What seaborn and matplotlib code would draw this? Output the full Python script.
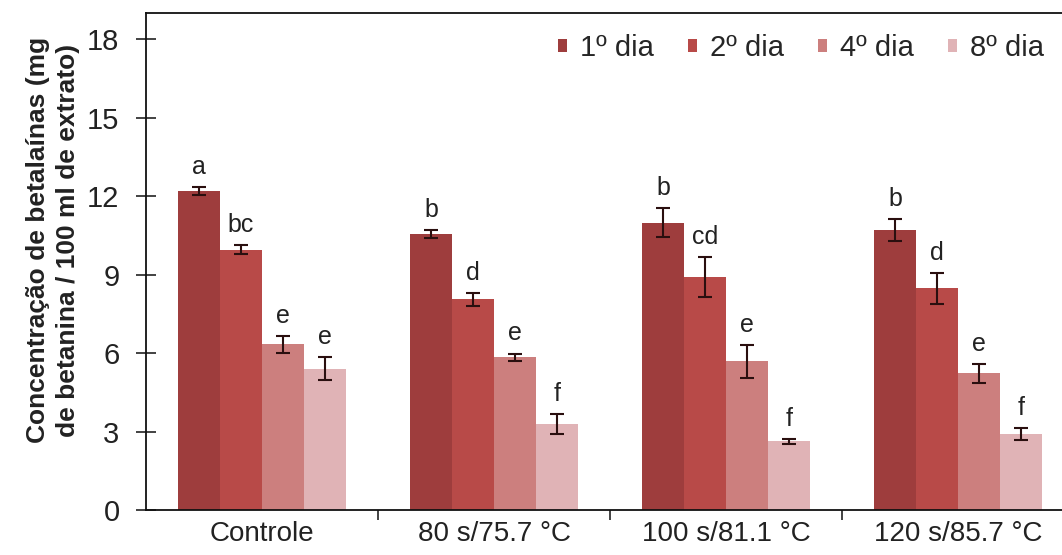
import numpy as np
import pandas as pd
import matplotlib
matplotlib.use("Agg")
import matplotlib.pyplot as plt
import seaborn as sns

# Betalain content per treatment and storage day
tratamentos = ["Controle", "80 s/75.7 °C", "100 s/81.1 °C", "120 s/85.7 °C"]
dias = ["1º dia", "2º dia", "4º dia", "8º dia"]

dia1 = [12.18, 10.55, 10.98, 10.70]
dia2 = [9.95, 8.05, 8.90, 8.48]
dia4 = [6.33, 5.83, 5.68, 5.22]
dia8 = [5.40, 3.28, 2.62, 2.92]

err1 = [0.15, 0.14, 0.55, 0.43]
err2 = [0.17, 0.24, 0.76, 0.59]
err4 = [0.32, 0.15, 0.62, 0.35]
err8 = [0.43, 0.39, 0.08, 0.23]

let1 = ["a", "b", "b", "b"]
let2 = ["bc", "d", "cd", "d"]
let4 = ["e", "e", "e", "e"]
let8 = ["e", "f", "f", "f"]

cores = ["#9E3D3D", "#B84A48", "#CC7F7E", "#E0B3B6"]

valores = [dia1, dia2, dia4, dia8]
erros = [err1, err2, err4, err8]
letras = [let1, let2, let4, let8]

df = pd.DataFrame({
    "tratamento": np.repeat([tratamentos], 4, axis=0).ravel(),
    "dia": np.repeat(dias, len(tratamentos)),
    "valor": np.concatenate(valores),
    "erro": np.concatenate(erros),
    "letra": np.concatenate(letras),
})

sns.set_theme(style="white")
plt.rcParams["font.family"] = ["Liberation Sans", "DejaVu Sans"]

fig = plt.figure(figsize=(10.62, 5.55), dpi=100)
ax = fig.add_axes([146 / 1062, 1 - 510 / 555, 928 / 1062, 497 / 555])

sns.barplot(data=df, x="tratamento", y="valor", hue="dia", order=tratamentos,
            hue_order=dias, palette=cores, width=0.72, gap=0, errorbar=None,
            saturation=1, ax=ax, linewidth=0)

# error bars and significance letters on each bar
for i, dia in enumerate(dias):
    cont = ax.containers[i]
    sub = df[df["dia"] == dia].set_index("tratamento").loc[tratamentos]
    for bar, (_, row) in zip(cont, sub.iterrows()):
        xc = bar.get_x() + bar.get_width() / 2
        ax.errorbar(xc, row["valor"], yerr=row["erro"], fmt="none",
                    ecolor="#2a0f0f", elinewidth=1.5, capsize=4.8, capthick=1.5)
        ax.text(xc, row["valor"] + row["erro"] + 0.5, row["letra"],
                ha="center", va="baseline", fontsize=18, color="#222222")

ax.set_xlim(-0.5, 3.5)
ax.set_ylim(0, 19)
ax.set_yticks([0, 3, 6, 9, 12, 15, 18])
ax.tick_params(axis="y", direction="inout", length=14, width=1.2,
               labelsize=21, colors="#222222", pad=12, left=True)
ax.tick_params(axis="x", which="major", length=0, labelsize=20, pad=8,
               colors="#222222")
ax.set_xticks([0.5, 1.5, 2.5], minor=True)
ax.tick_params(axis="x", which="minor", direction="out", length=7, width=1.2,
               bottom=True, color="#222222")
ax.set_xlabel("")
ax.set_ylabel("Concentração de betalaínas (mg\nde betanina / 100 ml de extrato)",
              fontsize=19, fontweight="bold", color="#222222",
              linespacing=1.3)
ax.yaxis.set_label_coords((80 - 146) / 928, (510 - 240) / 497)

for s in ["left", "bottom", "top"]:
    ax.spines[s].set_visible(True)
    ax.spines[s].set_color("#111111")
    ax.spines[s].set_linewidth(1.3)
ax.spines["right"].set_visible(False)

handles, labels = ax.get_legend_handles_labels()
ax.legend(handles, labels, ncol=4, frameon=False, fontsize=21,
          loc="center right", bbox_to_anchor=((1044 - 146) / 928, (510 - 48) / 497),
          handlelength=0.32, handleheight=0.32, handletextpad=0.45,
          columnspacing=1.15, borderpad=0, borderaxespad=0)

fig.savefig("out.png", dpi=100)
